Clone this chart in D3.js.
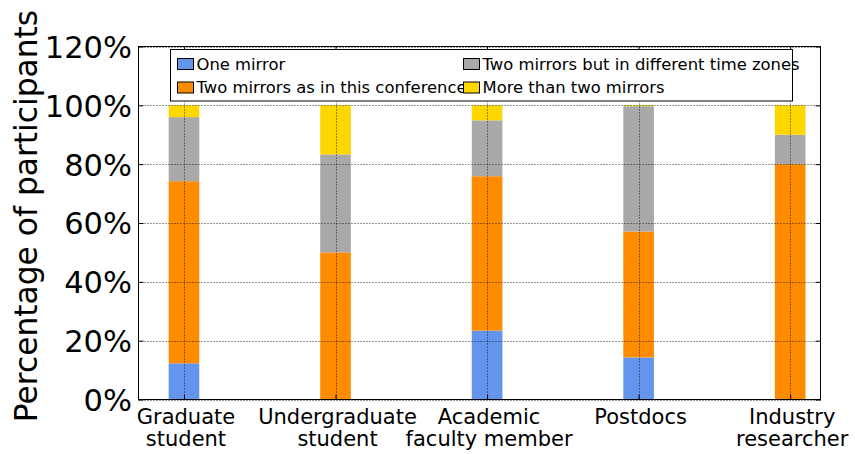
<!DOCTYPE html>
<html>
<head>
<meta charset="utf-8">
<script src="https://cdn.jsdelivr.net/npm/d3@7"></script>
<style>
	body { margin: 0; background: #fff; }
	svg { display: block; font-family: "DejaVu Sans", sans-serif; }
</style>
</head>
<body>
<svg id="chart" width="855" height="454"></svg>
<script>
// values (percent of participants)
var categories = [["Graduate", "student"], ["Undergraduate", "student"], ["Academic", "faculty member"], ["Postdocs"], ["Industry", "researcher"]];
var seriesNames = ["One mirror", "Two mirrors as in this conference", "Two mirrors but in different time zones", "More than two mirrors"];
var seriesColors = ["#6495ed", "#ff8c00", "#a9a9a9", "#ffd700"];
var oneMirror = [12.3, 0, 23.4, 14.3, 0];
var twoSame = [61.9, 50, 52.5, 42.8, 80];
var twoDiff = [21.8, 33.3, 19.0, 42.6, 10];
var moreThanTwo = [4.0, 16.7, 5.1, 0.3, 10];
var yTicks = [0, 20, 40, 60, 80, 100, 120];

var svg = d3.select("#chart");

var plotLeft = 138.5, plotRight = 820.5, plotTop = 46.5, plotBottom = 399.5;

var x = d3.scaleLinear().domain([-0.3, 4.2]).range([plotLeft, plotRight]),
	y = d3.scaleLinear().domain([0, 120]).range([plotBottom, plotTop]);
var barW = 0.202;

var rows = categories.map(function(c, i) {
	return { i: i, s0: oneMirror[i], s1: twoSame[i], s2: twoDiff[i], s3: moreThanTwo[i] };
});
var stack = d3.stack().keys(["s0", "s1", "s2", "s3"])(rows);

// bars
svg.append("g").selectAll("g")
	.data(stack)
	.enter().append("g")
	.attr("fill", function(d, k) { return seriesColors[k]; })
	.selectAll("rect")
	.data(function(d) { return d; })
	.enter().append("rect")
	.attr("x", function(d) { return x(d.data.i - barW / 2); })
	.attr("width", function(d) { return x(barW) - x(0); })
	.attr("y", function(d) { return y(d[1]); })
	.attr("height", function(d) { return y(d[0]) - y(d[1]); });

// dotted grid on top of the bars
var grid = svg.append("g")
	.attr("stroke", "#000")
	.attr("stroke-width", 0.8)
	.attr("stroke-dasharray", "1,2");
grid.selectAll(".hgrid")
	.data(yTicks)
	.enter().append("line")
	.attr("x1", plotLeft).attr("x2", plotRight)
	.attr("y1", function(d) { return Math.round(y(d)) + 0.5; })
	.attr("y2", function(d) { return Math.round(y(d)) + 0.5; });
grid.selectAll(".vgrid")
	.data(categories)
	.enter().append("line")
	.attr("y1", plotTop).attr("y2", plotBottom)
	.attr("x1", function(d, i) { return Math.round(x(i)) + 0.5; })
	.attr("x2", function(d, i) { return Math.round(x(i)) + 0.5; });

// inward ticks on all four sides
var yAxisL = d3.axisLeft(y).tickValues(yTicks).tickSize(-5).tickFormat(function(d) { return d + "%"; }).tickPadding(12),
	yAxisR = d3.axisRight(y).tickValues(yTicks).tickSize(-5).tickFormat(""),
	xAxisB = d3.axisBottom(x).tickValues(d3.range(categories.length)).tickSize(-5).tickFormat(""),
	xAxisT = d3.axisTop(x).tickValues(d3.range(categories.length)).tickSize(-5).tickFormat("");

var gl = svg.append("g").attr("transform", "translate(" + plotLeft + ",0)").call(yAxisL);
svg.append("g").attr("transform", "translate(" + plotRight + ",0)").call(yAxisR);
svg.append("g").attr("transform", "translate(0," + plotBottom + ")").call(xAxisB);
svg.append("g").attr("transform", "translate(0," + plotTop + ")").call(xAxisT);
svg.selectAll(".domain").remove();
svg.selectAll(".tick line").attr("stroke", "#000");

gl.selectAll("text")
	.attr("font-size", 30.5)
	.attr("font-family", "DejaVu Sans")
	.attr("fill", "#000")
	.attr("dy", "0.36em")
	.attr("x", -6.5);

// frame
svg.append("rect")
	.attr("x", plotLeft).attr("y", plotTop)
	.attr("width", plotRight - plotLeft).attr("height", plotBottom - plotTop)
	.attr("fill", "none")
	.attr("stroke", "#000")
	.attr("stroke-width", 1);

// category labels (two lines)
var xl = svg.append("g").selectAll("text")
	.data(categories)
	.enter().append("text")
	.attr("text-anchor", "middle")
	.attr("font-size", 21)
	.attr("fill", "#000")
	.attr("transform", function(d, i) { return "translate(" + (x(i) + 2) + ",424)"; });
xl.selectAll("tspan")
	.data(function(d) { return d; })
	.enter().append("tspan")
	.attr("x", 0)
	.attr("y", function(d, j) { return j * 22; })
	.text(function(d) { return d; });

// y label
svg.append("text")
	.attr("transform", "translate(37,216) rotate(-90)")
	.attr("text-anchor", "middle")
	.attr("font-size", 31.3)
	.attr("fill", "#000")
	.text("Percentage of participants");

// legend
var lg = svg.append("g");
lg.append("rect")
	.attr("x", 170.5).attr("y", 49.5)
	.attr("width", 622).attr("height", 51.5)
	.attr("fill", "#fff")
	.attr("stroke", "#000")
	.attr("stroke-width", 1);
var colX = [177, 463], rowY = [58, 81.5];
var item = lg.selectAll(".item")
	.data(seriesNames)
	.enter().append("g")
	.attr("transform", function(d, k) {
		return "translate(" + colX[Math.floor(k / 2)] + "," + rowY[k % 2] + ")";
	});
item.append("rect")
	.attr("x", 0.5).attr("y", 0.5)
	.attr("width", 16).attr("height", 11)
	.attr("fill", function(d, k) { return seriesColors[k]; })
	.attr("stroke", "#000")
	.attr("stroke-width", 1);
item.append("text")
	.attr("x", 19.5)
	.attr("y", 11.5)
	.attr("font-size", 16.4)
	.attr("fill", "#000")
	.text(function(d) { return d; });
</script>
</body>
</html>
